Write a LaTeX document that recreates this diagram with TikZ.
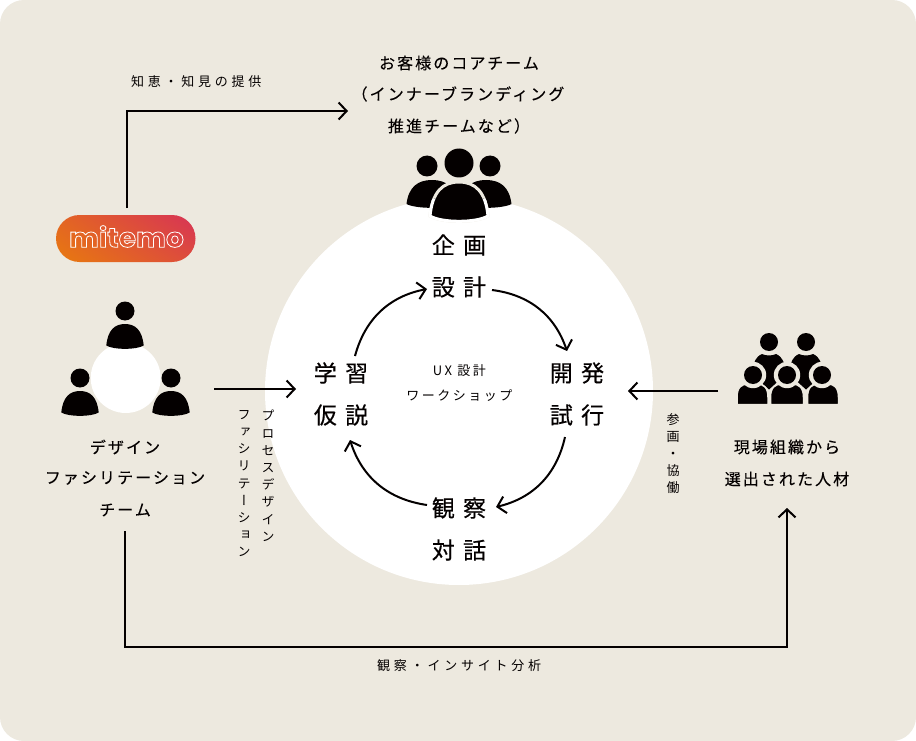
\documentclass[tikz,border=0pt]{standalone}
\usepackage{fontspec}
\usetikzlibrary{arrows.meta,fadings,shadings}
\setmainfont{Noto Sans CJK JP}
\newfontfamily\cjkv[RawFeature=+vert]{Noto Sans CJK JP}
\newfontfamily\logofont{Poppins}
\definecolor{bgc}{HTML}{EDE9DF}
\definecolor{ink}{HTML}{040000}
\definecolor{logoA}{HTML}{E87A0E}
\definecolor{logoB}{HTML}{D73356}
\newcommand{\LS}[3]{\fontsize{#1}{#1}\selectfont\addfontfeature{LetterSpace=#2,FakeBold=#3}}
\newcommand{\DomeAt}[5]{% style, cx, top, bottom, halfwidth
  \pgfmathsetmacro{\hh}{#4-#3}
  \path[#1] ({#2-#5},{#4-0.14*\hh})
    .. controls ({#2-0.92*#5},{#3+0.25*\hh}) and ({#2-0.56*#5},{#3}) .. ({#2},{#3})
    .. controls ({#2+0.56*#5},{#3}) and ({#2+0.92*#5},{#3+0.25*\hh}) .. ({#2+#5},{#4-0.14*\hh})
    .. controls ({#2+0.6*#5},{#4+0.04*\hh}) and ({#2-0.6*#5},{#4+0.04*\hh}) .. cycle;}
\newcommand{\FlatBody}[5]{% style, cx, top, bottom, halfwidth
  \pgfmathsetmacro{\hh}{#4-#3}
  \path[#1] ({#2-#5},{#4})
    -- ({#2-#5},{#4-0.35*\hh})
    .. controls ({#2-#5},{#3+0.15*\hh}) and ({#2-0.7*#5},{#3}) .. ({#2-0.3*#5},{#3})
    -- ({#2+0.3*#5},{#3})
    .. controls ({#2+0.7*#5},{#3}) and ({#2+#5},{#3+0.15*\hh}) .. ({#2+#5},{#4-0.35*\hh})
    -- ({#2+#5},{#4}) -- cycle;}
\tikzset{
  x=1pt,y=-1pt,
  conn/.style={draw=ink,line width=2pt,-{Straight Barb[length=8pt,width=17pt,line width=2pt]}},
  lab/.style={inner sep=0pt,text=ink,align=center},
  big/.style={lab,font=\LS{23}{36}{0.4}},
  mid/.style={lab,font=\LS{16}{13}{0.15}},
  small/.style={lab,xshift=0.2pt,font=\LS{13}{29}{0}},
  cen/.style={lab,xshift=0.4pt,font=\LS{13}{19}{0}},
  vert/.style={lab,anchor=north,font=\cjkv\fontsize{13}{17.2}\selectfont},
  blk/.style={fill=ink,draw=none},
}
\begin{document}
\begin{tikzpicture}
\useasboundingbox (0,0) rectangle (916,741);
\fill[white] (0,0) rectangle (916,741);
\fill[bgc,rounded corners=24pt] (0,0) rectangle (916,741);
\fill[white] (459,391) circle[radius=194];
\fill[white] (125.7,378) circle[radius=35];

% logo
\shade[lower left=logoA,upper left=logoA!70!logoB,upper right=logoB,lower right=logoA!35!logoB,rounded corners=23.5pt] (56,215) rectangle (195.5,262);
\node[inner sep=0pt,text=white] (logo) at (126.5,236.5) {\special{pdf:code q 1 1 1 RG 1 Tr 0.6 w}\scalebox{1.41}[1.35]{\logofont\bfseries\fontsize{20}{20}\selectfont mitemo}\special{pdf:code Q}};

% coordinates
\coordinate (a1) at (127,208); \coordinate (a2) at (127,111); \coordinate (a3) at (348,111);
\coordinate (b1) at (214,389); \coordinate (b2) at (296,389);
\coordinate (c1) at (718,391); \coordinate (c2) at (628,391);
\coordinate (d1) at (125,531); \coordinate (d2) at (125,647); \coordinate (d3) at (787,647); \coordinate (d4) at (787,508);
\coordinate (e1) at (355,356); \coordinate (e2) at (427,289);
\coordinate (f1) at (492,290); \coordinate (f2) at (567,351);
\coordinate (g1) at (565,437); \coordinate (g2) at (496,507);
\coordinate (h1) at (427,505); \coordinate (h2) at (350,440);

\draw[conn] (a1) -- (a2) -- (a3);
\draw[conn] (b1) -- (b2);
\draw[conn] (c1) -- (c2);
\draw[conn] (d1) -- (d2) -- (d3) -- (d4);
\draw[conn] (e1) to[bend left=32] (e2);
\draw[conn] (f1) to[bend left=32] (f2);
\draw[conn] (g1) to[bend left=32] (g2);
\draw[conn] (h1) to[bend left=32] (h2);

% top group
\fill[ink] (427,166) circle[radius=10.5];
\fill[ink] (490,166) circle[radius=10.5];
\fill[ink] (459,163) circle[radius=14.5];
\DomeAt{blk}{432}{180}{208}{25.5}
\DomeAt{blk}{486}{180}{208}{25.5}
\DomeAt{fill=ink,draw=bgc,line width=3pt}{459}{182}{221.5}{29}
\begin{scope}
\clip (459,391) circle[radius=194];
\DomeAt{fill=ink,draw=white,line width=3pt}{459}{182}{221.5}{29}
\end{scope}

% left group
\foreach \cx/\cy in {125/311,80/378,171/378}{
  \fill[ink] (\cx,\cy) circle[radius=9.5];
  \pgfmathsetmacro{\tp}{\cy+13}\pgfmathsetmacro{\bt}{\cy+38}
  \DomeAt{blk}{\cx}{\tp}{\bt}{18.7}
}

% right group
\foreach \cx in {769,806}{
  \fill[ink] (\cx,342) circle[radius=9];
  \path[fill=ink] ({\cx-15},363) .. controls ({\cx-13},358) and ({\cx-10},355) .. ({\cx-7},354)
    .. controls ({\cx-3},356) and ({\cx+3},356) .. ({\cx+7},354)
    .. controls ({\cx+10},355) and ({\cx+13},358) .. ({\cx+15},363) -- ({\cx+15},376) -- ({\cx},389.5) -- ({\cx-15},376) -- cycle;
}
\foreach \cx/\hw in {752.5/15.5,787/16.5,823/15.5}{
  \FlatBody{fill=ink,draw=bgc,line width=1.5pt}{\cx}{384}{404.5}{\hw}
}
\foreach \cx/\hw in {753,787,822}{
  \fill[bgc] (\cx,375) circle[radius=13.2];
  \fill[ink] (\cx,375) circle[radius=9];
}

% text
\node[mid] (t1) at (459,63) {お客様のコアチーム};
\node[mid] (t2) at (458,94) {（インナーブランディング};
\node[mid] (t3) at (459,126) {推進チームなど）};
\node[small] (t4) at (196,82) {知恵・知見の提供};
\node[big] (p1) at (459,245) {企画};
\node[big] (p2) at (459,287) {設計};
\node[big] (q1) at (341,373) {学習};
\node[big] (q2) at (341,415) {仮説};
\node[big] (r1) at (577,373) {開発};
\node[big] (r2) at (577,415) {試行};
\node[big] (s1) at (459,508) {観察};
\node[big] (s2) at (459,550) {対話};
\node[cen] (u1) at (459,371) {UX 設計};
\node[cen] (u2) at (459,396) {ワークショップ};
\node[mid] (l1) at (125,447) {デザイン};
\node[mid] (l2) at (125,478) {ファシリテーション};
\node[mid] (l3) at (125,510) {チーム};
\node[mid] (m1) at (787,447) {現場組織から};
\node[mid] (m2) at (787,479) {選出された人材};
\node[small] (n1) at (459,666) {観察・インサイト分析};
\node[vert] (v1) at (268,410) {プ\\ロ\\セ\\ス\\デ\\ザ\\イ\\ン};
\node[vert] (v2) at (244,410) {フ\\ァ\\シ\\リ\\テ\\ー\\シ\\ョ\\ン};
\node[vert] (v3) at (673,413) {参\\画\\・\\協\\働};
\end{tikzpicture}
\end{document}
